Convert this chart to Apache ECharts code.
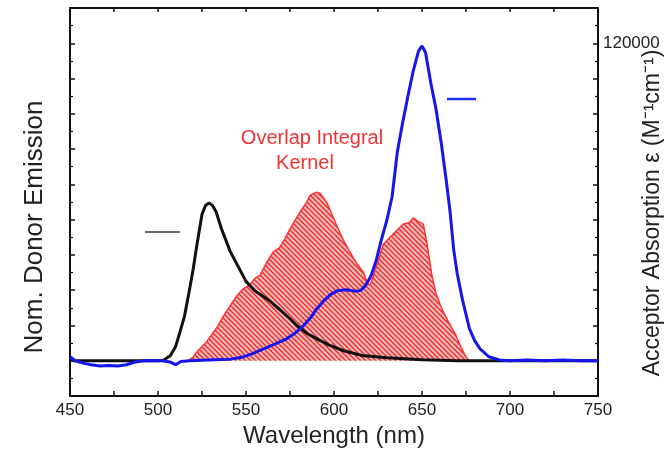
<!DOCTYPE html>
<html><head><meta charset="utf-8">
<script src="https://cdn.jsdelivr.net/npm/echarts@6/dist/echarts.min.js"></script>
<style>html,body{margin:0;padding:0;background:#fff}#c{width:672px;height:459px}</style>
</head><body><div id="c"></div>
<script>
// ---- data ----
const xTickLabels = [450, 500, 550, 600, 650, 700, 750];
const rightTickLabels = [120000];

const donorWl = [450,452,470,490,500,503,507,510,512.5,515,518,520,522,525,527,529,531,533,536,541,545,550,555,560,564,570,575,579,585,590,597,605,616,630,650,670,700,750];
const donorEmission = [0.15,0,0,0,0,0.03,0.28,0.8,1.64,2.5,4.08,5.2,6.5,8.3,8.8,8.95,8.8,8.45,7.5,6.2,5.45,4.5,3.97,3.63,3.35,2.83,2.38,1.98,1.53,1.25,0.9,0.58,0.3,0.17,0.06,0,0,0];

const acceptorWl = [450,453,458,462,467,472,477,482,487,492,497,502,507,510,513,518,525,532,541,547,553,560,566,573,578,583,587,590,594,598,602,607,612,615,618,621,624,627,630,633,636,639,642,645,648,650,652,655,658,661,664,666,668,670,673,677,680,683,688,694,700,710,720,730,740,750];
const acceptorAbs = [1500,0,-1000,-1500,-2000,-1800,-2000,-1500,-500,0,0,0,-500,-1500,-300,0,200,400,600,1200,2500,4500,6200,8300,10500,13500,16500,19500,22500,25000,26500,26800,26300,26500,28500,32000,38000,46000,53000,62000,79000,90000,100000,109500,117000,119000,116500,105000,95000,82000,67000,56000,42000,33000,23000,12000,7500,4500,1500,300,0,300,0,300,0,0];

const kernelWl = [517,520,522,527,533,537,541,545,548.5,552,555,558,562,565.5,569,572,575,580.7,584,586.4,590,592,595.8,598,601.5,605,609,613,616.6,619,620.5,624,628,633.7,639.4,643,645,647,650.7,652.6,655.5,658,661,665,669,672,675,677];
const kernel = [0,0.2,0.5,1.0,1.81,2.5,3.12,3.7,4.08,4.3,4.65,4.85,5.6,6.17,6.4,6.9,7.48,8.43,8.9,9.37,9.56,9.5,8.99,8.5,7.67,6.9,6.17,5.5,5.03,4.4,4.27,5.3,6.6,7.18,7.75,7.84,8.1,7.94,7.75,6.8,4.9,3.8,3.0,2.2,1.5,0.8,0.2,0];

// ---- helpers ----
const zip = (a, b) => a.map((v, i) => [v, b[i]]);
function hatch() {
  const c = document.createElement('canvas'); c.width = 5; c.height = 5;
  const g = c.getContext('2d');
  g.fillStyle = '#fbbcbc'; g.fillRect(0, 0, 5, 5);
  g.strokeStyle = '#ea2a2a'; g.lineWidth = 1.4;
  g.beginPath();
  g.moveTo(-1, -1); g.lineTo(6, 6);
  g.moveTo(-1, 4); g.lineTo(1, 6);
  g.moveTo(4, -1); g.lineTo(6, 1);
  g.stroke();
  return c;
}

const FONT = 'Liberation Sans, Arial, sans-serif';
const TXT = '#222';
const RI = 120000 / 9;

const chart = echarts.init(document.getElementById('c'), null, {renderer: 'canvas'});
chart.setOption({
  animation: false,
  backgroundColor: '#fff',
  grid: {left: 70, top: 8, width: 528, height: 388, containLabel: false, outerBoundsMode: 'none'},
  xAxis: [{
    type: 'value', min: 450, max: 750, interval: 25, position: 'bottom',
    name: 'Wavelength (nm)', nameLocation: 'middle', nameGap: 28, nameMoveOverlap: false,
    nameTextStyle: {fontFamily: FONT, fontSize: 24, color: TXT},
    axisLine: {show: true, onZero: false, lineStyle: {color: '#111', width: 2}},
    axisTick: {show: true, inside: true, length: 5, lineStyle: {color: '#111', width: 1.5}},
    axisLabel: {margin: 6, fontFamily: FONT, fontSize: 17, color: TXT,
      formatter: v => xTickLabels.includes(Math.round(v)) ? String(Math.round(v)) : ''},
    splitLine: {show: false}
  }, {
    type: 'value', min: 450, max: 750, interval: 25, position: 'top',
    axisLine: {show: true, onZero: false, lineStyle: {color: '#111', width: 2}},
    axisTick: {show: true, inside: true, length: 4, lineStyle: {color: '#111', width: 1.5}},
    axisLabel: {show: false}, splitLine: {show: false}
  }],
  yAxis: [{
    type: 'value', min: -2, max: 20, interval: 2, position: 'left',
    name: 'Nom. Donor Emission', nameLocation: 'middle', nameGap: 22, nameMoveOverlap: false,
    nameTextStyle: {fontFamily: FONT, fontSize: 26, color: TXT, padding: [0, 50, 0, 0]},
    axisLine: {show: true, onZero: false, lineStyle: {color: '#111', width: 2}},
    axisTick: {show: true, inside: true, length: 5, lineStyle: {color: '#111', width: 1.5}},
    minorTick: {show: true, splitNumber: 2, length: 3, lineStyle: {color: '#111', width: 1.2}},
    axisLabel: {show: false}, splitLine: {show: false}
  }, {
    type: 'value', min: -RI, max: 10 * RI, interval: RI, position: 'right',
    name: 'Acceptor Absorption ε (M⁻¹cm⁻¹)', nameLocation: 'middle', nameGap: 43, nameRotate: 90, nameMoveOverlap: false,
    nameTextStyle: {fontFamily: FONT, fontSize: 23, color: TXT, padding: [0, 22, 0, 0]},
    axisLine: {show: true, onZero: false, lineStyle: {color: '#111', width: 2}},
    axisTick: {show: true, inside: true, length: 5, lineStyle: {color: '#111', width: 1.5}},
    minorTick: {show: true, splitNumber: 2, length: 3, lineStyle: {color: '#111', width: 1.2}},
    axisLabel: {margin: 5, fontFamily: FONT, fontSize: 17, color: TXT, verticalAlign: 'middle', padding: [0, 0, 6, 0],
      formatter: v => { const t = rightTickLabels.find(t => Math.abs(v - t) < 1); return t === undefined ? '' : String(t); }},
    splitLine: {show: false}
  }],
  graphic: [
    {type: 'text', x: 312, y: 138, style: {text: 'Overlap Integral', fill: '#ee3333', font: '20px ' + FONT, textAlign: 'center', textVerticalAlign: 'middle'}},
    {type: 'text', x: 305, y: 163, style: {text: 'Kernel', fill: '#ee3333', font: '20px ' + FONT, textAlign: 'center', textVerticalAlign: 'middle'}},
    {type: 'line', shape: {x1: 145, y1: 232, x2: 180, y2: 232}, style: {stroke: '#666', lineWidth: 2}},
    {type: 'line', shape: {x1: 447, y1: 99, x2: 476, y2: 99}, style: {stroke: '#2233ee', lineWidth: 2.5}}
  ],
  series: [{
    name: 'Overlap Integral Kernel', type: 'line', xAxisIndex: 0, yAxisIndex: 0,
    data: zip(kernelWl, kernel), symbol: 'none', z: 1,
    lineStyle: {color: '#ff3030', width: 1.5},
    areaStyle: {color: {image: hatch(), repeat: 'repeat'}, opacity: 1}
  }, {
    name: 'Donor Emission', type: 'line', xAxisIndex: 0, yAxisIndex: 0,
    data: zip(donorWl, donorEmission), symbol: 'none', z: 3,
    lineStyle: {color: '#111', width: 3}
  }, {
    name: 'Acceptor Absorption', type: 'line', xAxisIndex: 0, yAxisIndex: 1,
    data: zip(acceptorWl, acceptorAbs), symbol: 'none', z: 4,
    lineStyle: {color: '#1515ee', width: 3}
  }]
});
</script></body></html>
